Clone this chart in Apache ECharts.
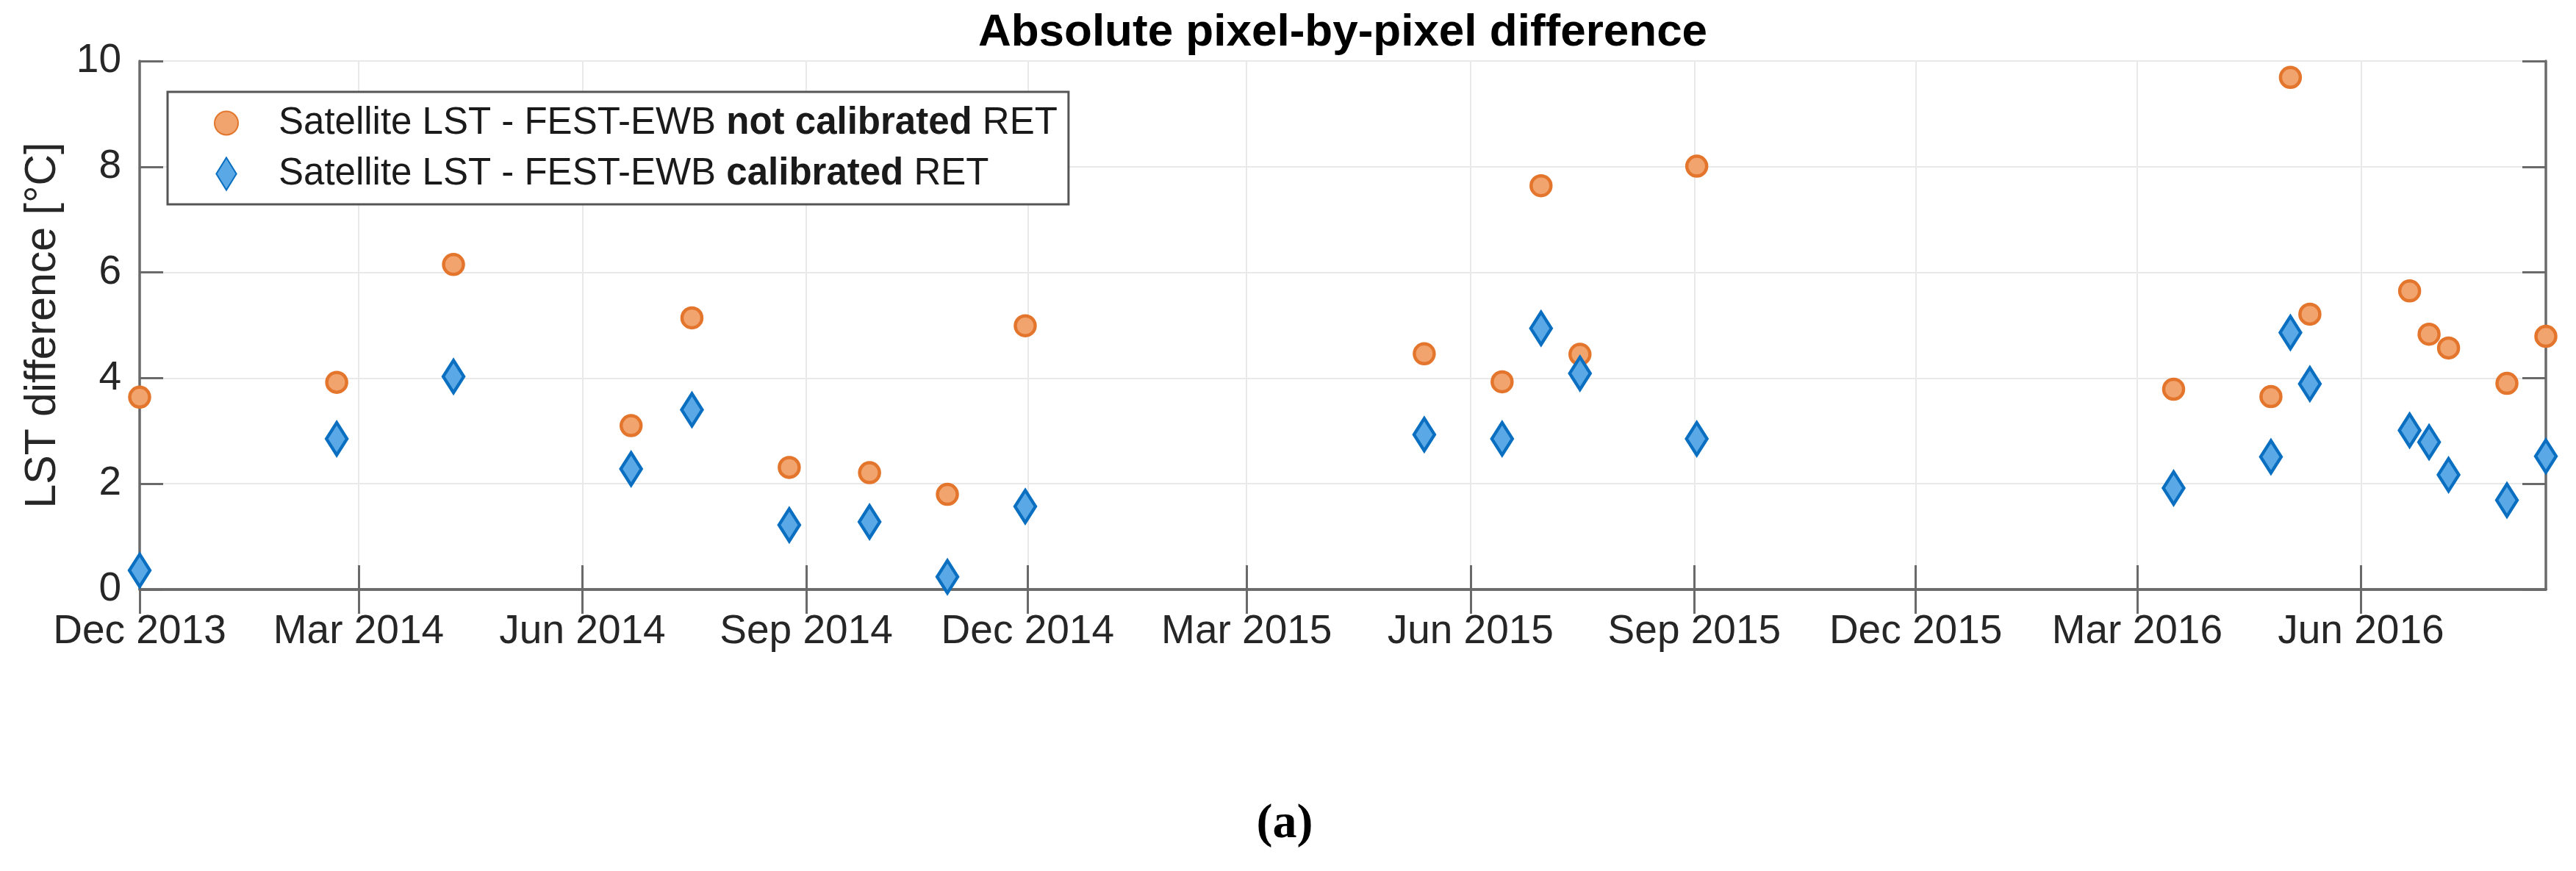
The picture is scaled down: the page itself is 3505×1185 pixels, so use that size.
<!DOCTYPE html>
<html>
<head>
<meta charset="utf-8">
<script src="https://cdn.jsdelivr.net/npm/echarts@6.0.0/dist/echarts.min.js"></script>
<style>
html,body{margin:0;padding:0;background:#fff;}
#chart{width:3505px;height:1185px;}
</style>
</head>
<body>
<div id="chart"></div>
<script>
// ---- data ----
const dates = ['2013-12-01','2014-02-20','2014-04-09','2014-06-21','2014-07-16','2014-08-25','2014-09-27','2014-10-29','2014-11-30',
  '2015-05-13','2015-06-14','2015-06-30','2015-07-16','2015-09-02',
  '2016-03-16','2016-04-25','2016-05-03','2016-05-11','2016-06-21','2016-06-29','2016-07-07','2016-07-31','2016-08-16'];
const notCalibrated = [3.64,3.92,6.15,3.10,5.14,2.31,2.21,1.80,4.99, 4.46,3.93,7.64,4.45,8.01, 3.79,3.65,9.69,5.21,5.65,4.83,4.57,3.90,4.79];
const calibrated    = [0.36,2.85,4.03,2.28,3.40,1.22,1.28,0.24,1.57, 2.93,2.85,4.94,4.09,2.85, 1.92,2.51,4.86,3.89,3.01,2.79,2.17,1.69,2.52];
const xTickDates = ['2013-12-01','2014-03-01','2014-06-01','2014-09-01','2014-12-01','2015-03-01','2015-06-01','2015-09-01','2015-12-01','2016-03-01','2016-06-01'];
const xRange = ['2013-12-01','2016-08-16'];
const yTicks = [0,2,4,6,8,10];
const seriesNames = ['Satellite LST - FEST-EWB not calibrated RET','Satellite LST - FEST-EWB calibrated RET'];
const titleText = 'Absolute pixel-by-pixel difference';
const yAxisTitle = 'LST difference [°C]';
const panelLabel = '(a)';

const MONTHS = ['Jan','Feb','Mar','Apr','May','Jun','Jul','Aug','Sep','Oct','Nov','Dec'];
const t = s => new Date(s + 'T00:00:00Z').getTime();
const xTicks = xTickDates.map(t);
const fmt = v => { const d = new Date(v); return MONTHS[d.getUTCMonth()] + ' ' + d.getUTCFullYear(); };

const FONT = 'Liberation Sans, Arial, Helvetica, sans-serif';
const AX = '#6a6a6a';
const GRID = '#e9e9e9';

const chart = echarts.init(document.getElementById('chart'), null, {renderer:'canvas'});

const baseX = {
  type: 'value', min: t(xRange[0]), max: t(xRange[1]),
  axisLine: {show: true, lineStyle: {color: AX, width: 3.5}},
  axisTick: {show: true, inside: true, length: 33, customValues: xTicks, lineStyle: {color: AX, width: 3}},
  minorTick: {show: false}
};
const baseY = {
  type: 'value', min: 0, max: 10, interval: 2,
  axisLine: {show: true, lineStyle: {color: AX, width: 3.5}},
  axisTick: {show: true, inside: true, length: 32, lineStyle: {color: AX, width: 3}}
};

const legendFormatter = name => name.replace(/(not calibrated|calibrated)/, '{b|$1}');

chart.setOption({
  animation: false,
  backgroundColor: '#ffffff',
  grid: {left: 190, right: 41, top: 83, bottom: 383, containLabel: false, outerBoundsMode: 'none'},
  xAxis: [
    Object.assign({}, baseX, {
      position: 'bottom',
      axisLabel: {show: true, customValues: xTicks, formatter: fmt, margin: 30, color: '#262626', fontSize: 55, fontFamily: FONT},
      splitLine: {show: true, lineStyle: {color: GRID, width: 2}}
    }),
    Object.assign({}, baseX, {
      position: 'top',
      axisLabel: {show: false},
      splitLine: {show: false}
    })
  ],
  yAxis: [
    Object.assign({}, baseY, {
      position: 'left',
      name: yAxisTitle, nameLocation: 'middle', nameRotate: 90, nameGap: 102,
      nameTextStyle: {color: '#262626', fontSize: 59, fontFamily: FONT},
      axisLabel: {show: true, margin: 25, color: '#262626', fontSize: 55, fontFamily: FONT,
        customValues: yTicks},
      splitLine: {show: true, lineStyle: {color: GRID, width: 2}}
    }),
    Object.assign({}, baseY, {
      position: 'right',
      axisLabel: {show: false},
      splitLine: {show: false}
    })
  ],
  legend: {
    show: true, orient: 'vertical', left: 228, top: 125,
    padding: [17, 15, 16, 63],
    backgroundColor: '#ffffff', borderColor: '#555555', borderWidth: 3, borderRadius: 0,
    itemWidth: 32, itemHeight: 44, itemGap: 18,
    textStyle: {color: '#1a1a1a', fontSize: 51, fontFamily: FONT, padding: [0, 0, 0, 50],
      rich: {b: {fontWeight: 'bold', fontSize: 51, fontFamily: FONT, color: '#1a1a1a'}}},
    formatter: legendFormatter,
    data: [
      {name: seriesNames[0], icon: 'circle'},
      {name: seriesNames[1], icon: 'path://M0,-1L0.62,0L0,1L-0.62,0Z'}
    ]
  },
  series: [
    {
      name: seriesNames[0], type: 'scatter', xAxisIndex: 0, yAxisIndex: 0,
      symbol: 'circle', symbolSize: 27,
      itemStyle: {color: '#f2a46f', borderColor: '#e3762c', borderWidth: 4.5, opacity: 1},
      data: dates.map((d, i) => [t(d), notCalibrated[i]]),
      z: 3
    },
    {
      name: seriesNames[1], type: 'scatter', xAxisIndex: 0, yAxisIndex: 0,
      symbol: 'diamond', symbolSize: [28, 44],
      itemStyle: {color: '#5aa9e6', borderColor: '#0a6fc0', borderWidth: 4.5, opacity: 1},
      data: dates.map((d, i) => [t(d), calibrated[i]]),
      z: 4
    }
  ],
  graphic: [
    {type: 'text', x: 1827, y: 45, z: 10,
      style: {text: titleText, textAlign: 'center', textVerticalAlign: 'middle',
        font: 'bold 62px Liberation Sans, Arial, sans-serif', fill: '#000000'}},
    {type: 'text', x: 1748, y: 1122, z: 10,
      style: {text: panelLabel, textAlign: 'center', textVerticalAlign: 'middle',
        font: 'bold 66px Liberation Serif, Times New Roman, serif', fill: '#000000'}}
  ]
});
</script>
</body>
</html>
